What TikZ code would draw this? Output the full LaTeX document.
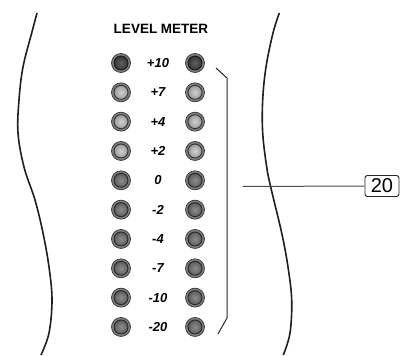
\documentclass[tikz,border=0pt]{standalone}
\usepackage{fontspec}
\setmainfont{Liberation Sans}
\begin{document}
\begin{tikzpicture}[x=1pt,y=-1pt,
  ledbase/.style={circle, minimum size=19pt, inner sep=0pt, draw=black!80, line width=0.7pt, fill=black!50},
  ledlight/.style={ledbase, path picture={
      \shade[inner color=black!18, outer color=black!48] (path picture bounding box.center) circle (7pt);
      \draw[black!80, line width=0.9pt] (path picture bounding box.center) circle (7pt);}},
  ledmid/.style={ledbase, path picture={
      \shade[inner color=black!45, outer color=black!70] (path picture bounding box.center) circle (7pt);
      \draw[black!85, line width=0.9pt] (path picture bounding box.center) circle (7pt);}},
  leddark/.style={ledbase, path picture={
      \shade[inner color=black!62, outer color=black!85] (path picture bounding box.center) circle (7pt);
      \draw[black!90, line width=0.9pt] (path picture bounding box.center) circle (7pt);}},
  lvl/.style={font=\fontsize{13}{13}\selectfont\bfseries\itshape, inner sep=0pt},
  wave/.style={line width=1.6pt, draw=black!88},
  bracket/.style={line width=1pt, draw=black!85},
  callout/.style={draw=black!85, rounded corners=2.5pt, line width=0.9pt, minimum width=34pt, minimum height=21pt, inner sep=0pt, font=\fontsize{20}{20}\selectfont}
]
\useasboundingbox (0,0) rectangle (413,356);

% wavy outlines
\draw[wave] plot[smooth, tension=0.6] coordinates {(37,13) (31.7,33) (23,67) (19,100) (18,133) (24,167) (35,200) (43,233) (49,267) (52,300) (49,333) (41,355)};
\draw[wave] plot[smooth, tension=0.6] coordinates {(279.3,13) (273,33) (266,67) (262.7,100) (262.7,133) (266.7,167) (270.7,187) (281.7,233) (288,267) (291.7,300) (290,333) (283.3,355)};

% title
\node[font=\fontsize{13.5}{13.5}\selectfont\bfseries, inner sep=0pt] (title) at (161,29) {LEVEL METER};

% LED rows
\foreach \lab/\st [count=\i from 0] in {+10/leddark, +7/ledlight, +4/ledlight, +2/ledlight, 0/ledmid, -2/ledmid, -4/ledmid, -7/ledmid, -10/ledmid, -20/ledmid}{
  \node[\st] (L\i) at (121,63+29.33*\i) {};
  \node[\st] (R\i) at (195,63+29.33*\i) {};
  \node[lvl] (T\i) at (158,63+29.33*\i) {\lab};
}

% bracket
\coordinate (b1) at (216,68);
\coordinate (b2) at (227,78);
\coordinate (b3) at (227,318);
\coordinate (b4) at (218,334);
\draw[bracket] (b1) -- (b2) -- (b3) -- (b4);

% callout
\node[callout] (c20) at (382,186) {20};
\coordinate (lineStart) at (242.5,186.5);
\draw[line width=1pt, draw=black!70] (lineStart) -- (c20.west);
\end{tikzpicture}
\end{document}
